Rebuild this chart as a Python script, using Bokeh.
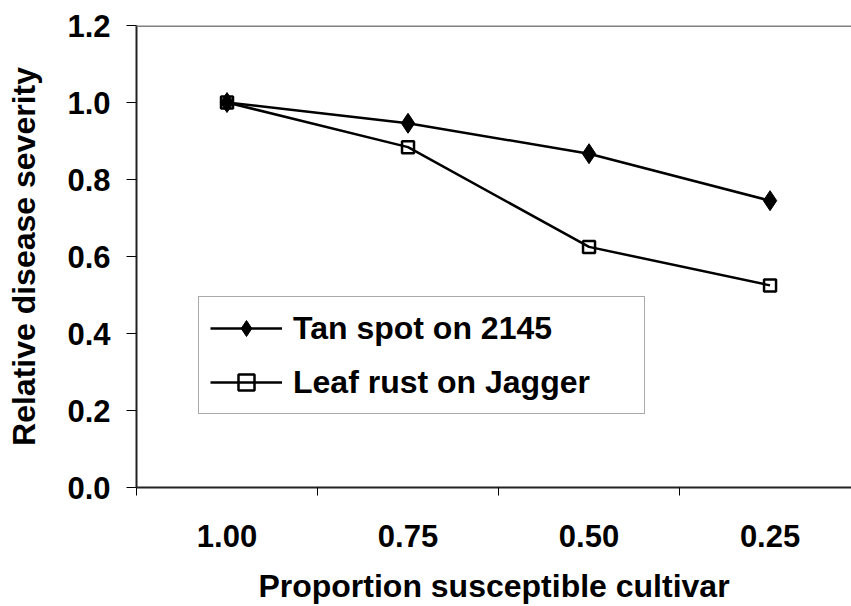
from bokeh.plotting import figure
from bokeh.models import Range1d, FixedTicker, Span, Legend, LegendItem, NumeralTickFormatter
from bokeh.embed import file_html
from bokeh.resources import INLINE

categories = ["1.00", "0.75", "0.50", "0.25"]
tan_spot = [1.0, 0.946, 0.867, 0.745]
leaf_rust = [1.0, 0.884, 0.625, 0.525]
y_ticks = [0.0, 0.2, 0.4, 0.6, 0.8, 1.0, 1.2]

xs = [i + 0.5 for i in range(len(categories))]
FONT = "Liberation Sans"

p = figure(width=851, height=606, output_backend="svg", toolbar_location=None,
           x_range=Range1d(0, 3.95), y_range=Range1d(0, 1.2),
           min_border_left=136, min_border_top=25, min_border_bottom=119, min_border_right=0)
p.outline_line_color = None
p.xgrid.visible = False
p.ygrid.visible = False
p.background_fill_color = "white"
p.border_fill_color = "white"

# top border of plot area
p.add_layout(Span(location=1.2, dimension="width", line_color="#808080", line_width=3))

l1 = p.line(xs, tan_spot, line_color="black", line_width=2.5)
s1 = p.scatter(xs, tan_spot, marker="diamond", size=20, fill_color="black", line_color="black")
l2 = p.line(xs, leaf_rust, line_color="black", line_width=2.5)
s2 = p.scatter(xs, leaf_rust, marker="square", size=12, fill_color=None, line_color="black", line_width=2.5)

# x axis
xa = p.xaxis[0]
xa.ticker = FixedTicker(ticks=xs, minor_ticks=list(range(len(categories) + 1)))
xa.major_label_overrides = {x: c for x, c in zip(xs, categories)}
xa.major_tick_line_color = None
xa.major_tick_out = 0
xa.major_tick_in = 0
xa.minor_tick_line_color = "black"
xa.minor_tick_out = 8
xa.minor_tick_in = 0
xa.axis_line_color = "#222222"
xa.axis_line_width = 2
xa.major_label_text_font = FONT
xa.major_label_text_font_style = "bold"
xa.major_label_text_font_size = "31px"
xa.major_label_text_color = "black"
xa.major_label_standoff = 29
xa.axis_label = "Proportion susceptible cultivar"
xa.axis_label_text_font = FONT
xa.axis_label_text_font_style = "bold"
xa.axis_label_text_font_size = "32px"
xa.axis_label_text_color = "black"
xa.axis_label_standoff = 18

# y axis
ya = p.yaxis[0]
ya.ticker = FixedTicker(ticks=y_ticks)
ya.formatter = NumeralTickFormatter(format="0.0")
ya.major_tick_line_color = "black"
ya.major_tick_out = 10
ya.major_tick_in = 0
ya.minor_tick_line_color = None
ya.axis_line_color = "#222222"
ya.axis_line_width = 2
ya.major_label_text_font = FONT
ya.major_label_text_font_style = "bold"
ya.major_label_text_font_size = "31px"
ya.major_label_text_color = "black"
ya.major_label_standoff = 16
ya.axis_label = "Relative disease severity"
ya.axis_label_text_font = FONT
ya.axis_label_text_font_style = "bold"
ya.axis_label_text_font_size = "32px"
ya.axis_label_text_color = "black"
ya.axis_label_standoff = 22

legend = Legend(items=[LegendItem(label="Tan spot on 2145", renderers=[l1, s1]),
                       LegendItem(label="Leaf rust on Jagger", renderers=[l2, s2])],
                location=(62, 73), orientation="vertical",
                glyph_width=72, glyph_height=40, label_height=40, spacing=14,
                padding=11, label_standoff=11, label_width=340,
                label_text_font=FONT, label_text_font_style="bold",
                label_text_font_size="32px", label_text_color="black",
                border_line_color="#555555", border_line_width=1,
                background_fill_color="white", background_fill_alpha=1.0)
p.add_layout(legend, "center")

open("out.html", "w").write(file_html(p, INLINE))
